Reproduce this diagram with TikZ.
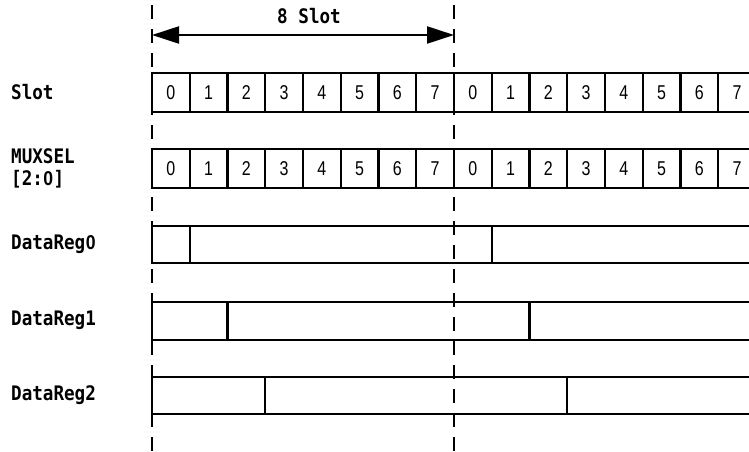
\documentclass[tikz,border=0pt]{standalone}
\usepackage{fontspec}
\setmainfont{DejaVu Sans Mono}
\newfontfamily\digfont{Liberation Sans}
\newcommand{\plainzero}{\makebox[0.602em]{\digfont\bfseries 0}}
\usetikzlibrary{arrows.meta}
\tikzset{
  lbl/.style={anchor=west, inner sep=0pt, xscale=0.88, font=\fontsize{20}{22}\selectfont\bfseries},
  digit/.style={inner sep=0pt, xscale=0.8, font=\digfont\fontsize{20}{22}\selectfont},
  boxline/.style={line width=2.2pt, line cap=rect},
  guide/.style={line width=2.2pt, dash pattern=on 14pt off 10pt},
  span/.style={line width=2.2pt, {Triangle[length=27pt,width=17pt]}-{Triangle[length=27pt,width=17pt]}}
}
\begin{document}
\begin{tikzpicture}[x=1pt,y=-1pt]
\useasboundingbox (0,0) rectangle (749,452);
% guide lines
\coordinate (g1top) at (152,5);
\coordinate (g1bot) at (152,452);
\coordinate (g2top) at (454,5);
\coordinate (g2bot) at (454,452);
\draw[guide] (g1top) -- (g1bot);
\draw[guide] (g2top) -- (g2bot);
% span arrow
\coordinate (aL) at (152,35);
\coordinate (aR) at (454,35);
\draw[span] (aL) -- (aR);
\node[inner sep=0pt, xscale=0.88, font=\fontsize{20}{22}\selectfont\bfseries] (spanlbl) at (309,16) {8 Slot};
% labels
\node[lbl] (lslot) at (11,92) {Slot};
\node[lbl] (lmux1) at (11,156) {MUXSEL};
\node[lbl] (lmux2) at (11,179) {[2:\plainzero]};
\node[lbl] (ld0) at (11,244) {DataReg\plainzero};
\node[lbl] (ld1) at (11,320) {DataReg1};
\node[lbl] (ld2) at (11,395) {DataReg2};
% slot rows
\foreach \yt/\yb/\nm in {73/112/s, 149/188/m}{
  \draw[boxline] (749,\yt) -- (152,\yt) -- (152,\yb) -- (749,\yb);
  \foreach \k in {0,...,15}{
    \pgfmathsetmacro{\xa}{152+37.75*\k}
    \pgfmathsetmacro{\xm}{152+37.75*(\k+0.5)}
    \pgfmathtruncatemacro{\d}{mod(\k,8)}
    \ifnum\k>0 \draw[boxline] (\xa,\yt) -- (\xa,\yb); \fi
    \node[digit] (\nm\k) at (\xm,{(\yt+\yb)/2}) {\d};
  }
}
% data registers
\foreach \yt/\yb/\a/\b in {226/263/1/9, 302/340/2/10, 377/414/3/11}{
  \draw[boxline] (749,\yt) -- (152,\yt) -- (152,\yb) -- (749,\yb);
  \draw[boxline] ({152+37.75*\a},\yt) -- ({152+37.75*\a},\yb);
  \draw[boxline] ({152+37.75*\b},\yt) -- ({152+37.75*\b},\yb);
}
\end{tikzpicture}
\end{document}
